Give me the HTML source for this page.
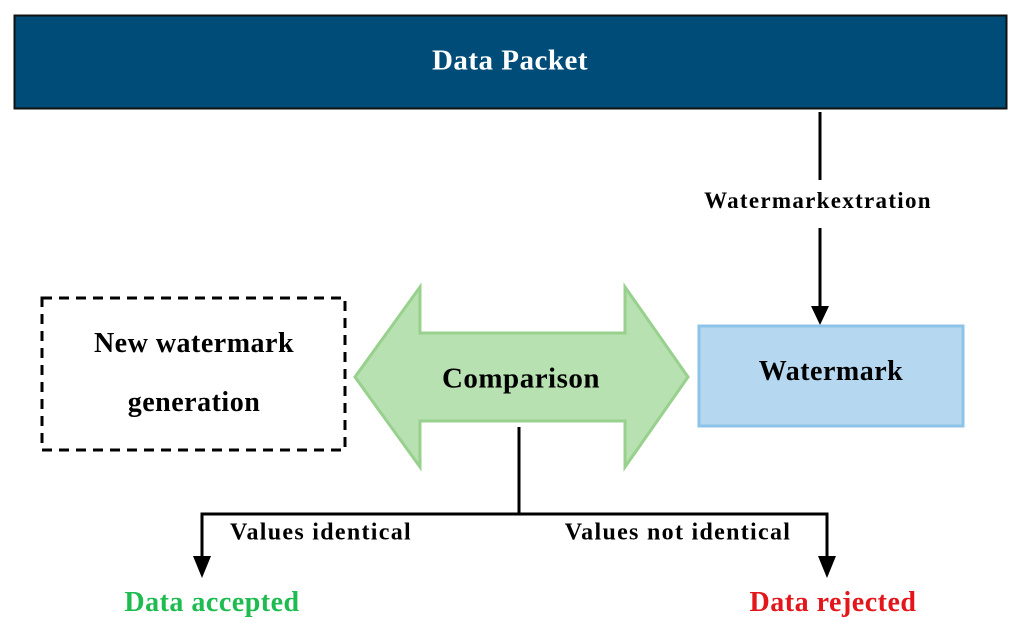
<!DOCTYPE html>
<html><head><style>
body{margin:0;width:1024px;height:632px;background:#fff;overflow:hidden;position:relative;font-family:"Liberation Serif",serif;font-weight:bold}
.t{position:absolute;white-space:nowrap;transform:translate(-50%,-50%);letter-spacing:0.5px}
.s{letter-spacing:1.3px}
</style></head><body>
<svg width="1024" height="632" style="position:absolute;left:0;top:0">
<rect x="14.5" y="15.5" width="992" height="93" fill="#004c78" stroke="#111" stroke-width="2"/>
<line x1="820" y1="112" x2="820" y2="180" stroke="#000" stroke-width="3"/>
<line x1="820" y1="228" x2="820" y2="310" stroke="#000" stroke-width="3"/>
<polygon points="811,306 829,306 820,325" fill="#000"/>
<rect x="699" y="326" width="264" height="100" fill="#b5d8f0" stroke="#8cc3e8" stroke-width="3"/>
<rect x="42" y="298" width="303" height="152" fill="none" stroke="#000" stroke-width="3" stroke-dasharray="10,7"/>
<polygon points="355,377 420,287 420,333 625,333 625,287 688,377 625,467 625,421 420,421 420,467" fill="#b7e1b0" stroke="#98d08d" stroke-width="3"/>
<polyline points="519,427 519,514 202,514 202,560" fill="none" stroke="#000" stroke-width="3"/>
<polyline points="519,514 827,514 827,560" fill="none" stroke="#000" stroke-width="3"/>
<polygon points="193,556 211,556 202,578" fill="#000"/>
<polygon points="818,556 836,556 827,578" fill="#000"/>
</svg>
<div class="t" style="left:510px;top:61px;color:#fff;font-size:29px">Data Packet</div>
<div class="t s" style="left:818px;top:201px;font-size:23px">Watermarkextration</div>
<div class="t" style="left:831px;top:372px;font-size:28px">Watermark</div>
<div class="t" style="left:521px;top:379px;font-size:29px">Comparison</div>
<div class="t" style="left:194px;top:344px;font-size:28px">New watermark</div>
<div class="t" style="left:194px;top:403px;font-size:28px">generation</div>
<div class="t s" style="left:321px;top:533px;font-size:24px">Values identical</div>
<div class="t s" style="left:678px;top:533px;font-size:24px">Values not identical</div>
<div class="t" style="left:212px;top:603px;font-size:28px;color:#1ebc50">Data accepted</div>
<div class="t" style="left:833px;top:603px;font-size:28px;color:#e3161b">Data rejected</div>
</body></html>
